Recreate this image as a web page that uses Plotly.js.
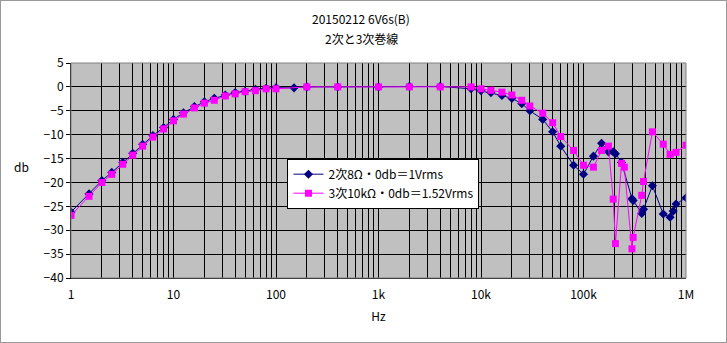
<!DOCTYPE html>
<html><head><meta charset="utf-8">
<script src="https://cdn.plot.ly/plotly-3.0.1.min.js"></script>
<style>html,body{margin:0;padding:0;background:#fff}#wrap{width:725px;height:341px;border:1px solid #9a9a9a;overflow:hidden}#chart{width:725px;height:341px}</style>
</head><body><div id="wrap"><div id="chart"></div></div>
<script>
// 2次 (secondary 8Ω) series
const freq2 = [1,1.5,2,2.5,3.2,4,5,6.3,8,10,12.5,16,20,25,32,40,50,63,80,100,150,200,400,1000,2000,4000,8000,10000,12500,16000,20000,25000,30000,40000,50000,60000,80000,100000,125000,150000,175000,195000,205000,235000,297000,305000,370000,385000,470000,600000,700000,750000,800000,1000000];
const db2 = [-26.2,-22.4,-19.6,-17.9,-15.8,-13.9,-12.0,-10.2,-8.5,-6.8,-5.4,-4.1,-3.1,-2.4,-1.7,-1.2,-0.9,-0.5,-0.3,-0.2,-0.2,0,0,0,0.1,0.1,-0.4,-0.8,-1.2,-1.8,-2.4,-3.5,-5.0,-6.8,-9.4,-12.4,-16.4,-18.3,-14.5,-11.8,-13.6,-13.6,-14.0,-15.8,-23.4,-23.8,-26.5,-25.6,-20.7,-26.6,-27.3,-26.0,-24.5,-23.2];
// 3次 (tertiary 10kΩ) series
const freq3 = [1,1.5,2,2.5,3.2,4,5,6.3,8,10,12.5,16,20,25,32,40,50,63,80,100,200,400,1000,2000,4000,8000,10000,12500,16000,20000,25000,30000,40000,50000,60000,80000,100000,125000,150000,175000,195000,205000,235000,250000,297000,305000,370000,385000,470000,600000,700000,800000,1000000];
const db3 = [-26.9,-22.9,-20.0,-18.3,-16.2,-14.3,-12.4,-10.5,-8.8,-7.1,-5.7,-4.4,-3.4,-2.8,-1.9,-1.45,-1.0,-0.8,-0.4,-0.4,0,0,0,0,0,0,-0.4,-0.7,-1.1,-1.7,-2.8,-4.0,-5.5,-7.5,-10.4,-13.3,-16.4,-16.8,-13.3,-12.4,-23.5,-32.8,-16.0,-16.8,-33.9,-31.5,-22.7,-19.8,-9.4,-12.0,-14.1,-13.7,-12.2];
const seriesNames = ['2次8Ω・0db＝1Vrms','3次10kΩ・0db＝1.52Vrms'];
const titleLines = ['20150212 6V6s(B)','2次と3次巻線'];
const decadeVals = [1,10,100,1000,10000,100000,1000000];
const decadeText = ['1','10','100','1k','10k','100k','1M'];

// grid positions at every 1..9 multiple, labels only at decades
const tickvals = [], ticktext = [];
decadeVals.forEach((d,i) => {
  if (i === decadeVals.length - 1) { tickvals.push(d); ticktext.push(decadeText[i]); return; }
  for (let m = 1; m <= 9; m++) { tickvals.push(d*m); ticktext.push(m === 1 ? decadeText[i] : ''); }
});

const font = "'Noto Sans CJK JP', 'Liberation Sans', sans-serif";
const traces = [
  {x: freq2, y: db2, name: seriesNames[0], type: 'scatter', mode: 'lines+markers',
   line: {color: '#000080', width: 1}, marker: {symbol: 'diamond', size: 7, color: '#000080'}},
  {x: freq3, y: db3, name: seriesNames[1], type: 'scatter', mode: 'lines+markers',
   line: {color: '#ff00ff', width: 1}, marker: {symbol: 'square', size: 7, color: '#ff00ff'}}
];
const layout = {
  width: 725, height: 341,
  margin: {l: 70, r: 40, t: 62, b: 64},
  paper_bgcolor: '#ffffff', plot_bgcolor: '#c0c0c0',
  font: {family: font, size: 12, color: '#000'},
  showlegend: true,
  xaxis: {type: 'log', range: [0, 6], tickvals: tickvals, ticktext: ticktext,
          showgrid: true, gridcolor: '#000', gridwidth: 1, showline: true, linecolor: '#000', linewidth: 1,
          ticks: '', ticklabelstandoff: 6, zeroline: false,
          title: {text: 'Hz', standoff: 11, font: {family: font, size: 12}}},
  yaxis: {range: [-40, 5], dtick: 5, showgrid: true, gridcolor: '#000', gridwidth: 1,
          showline: true, linecolor: '#000', linewidth: 1, ticks: 'outside', ticklen: 4, tickcolor: '#000',
          zeroline: false},
  legend: {x: 0.352, y: 0.555, xanchor: 'left', yanchor: 'top', bgcolor: '#ffffff', bordercolor: '#000',
           borderwidth: 1, font: {family: font, size: 12}, tracegroupgap: 0},
  annotations: [
    {text: titleLines[0], xref: 'paper', yref: 'paper', x: 0.472, y: 1.206, showarrow: false,
     xanchor: 'center', yanchor: 'middle', font: {family: font, size: 12}},
    {text: titleLines[1], xref: 'paper', yref: 'paper', x: 0.472, y: 1.112, showarrow: false,
     xanchor: 'center', yanchor: 'middle', font: {family: font, size: 12}},
    {text: 'db', xref: 'paper', yref: 'paper', x: -0.065, y: 0.52, showarrow: false,
     xanchor: 'right', font: {family: font, size: 12}}],
  shapes: [{type: 'rect', xref: 'paper', yref: 'paper', x0: 0, x1: 1, y0: 0, y1: 1,
            line: {color: '#808080', width: 1}, layer: 'above'}]
};
Plotly.newPlot('chart', traces, layout, {displayModeBar: false, staticPlot: true});
</script></body></html>
